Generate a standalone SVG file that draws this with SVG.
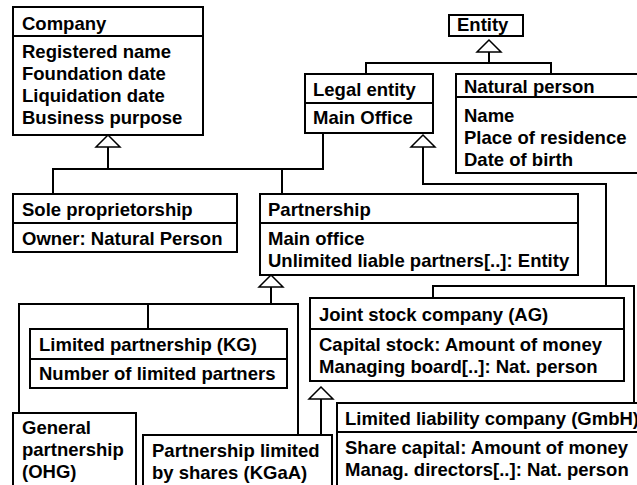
<svg xmlns="http://www.w3.org/2000/svg" width="637" height="485" viewBox="0 0 637 485">
<style>
.box{fill:#fff;stroke:#000;stroke-width:2}
.ln{fill:none;stroke:#000;stroke-width:2}
.tri{fill:#fff;stroke:#000;stroke-width:1.5}
text{font-family:"Liberation Sans",Arial,sans-serif;font-weight:bold;font-size:18.5px;fill:#000}
</style>
<rect width="637" height="485" fill="#fff"/>
<g id="connectors">
<polyline class="ln" points="489,52 489,63"/>
<polyline class="ln" points="366,74 366,63 551,63 551,74"/>
<polyline class="ln" points="108,147 108,169"/>
<polyline class="ln" points="53,194 53,169 323,169 323,133"/>
<polyline class="ln" points="282,169 282,194"/>
<polyline class="ln" points="423,147 423,184 606,184 606,286"/>
<polyline class="ln" points="433,298 433,286 634,286 634,403"/>
<polyline class="ln" points="271,287 271,304"/>
<polyline class="ln" points="19,413 19,304 298,304 298,435"/>
<polyline class="ln" points="148,304 148,329"/>
<polyline class="ln" points="321,399 321,435"/>
<polygon class="tri" points="489,40 477,52 501,52"/>
<polygon class="tri" points="108,135 96,147 120,147"/>
<polygon class="tri" points="423,135 411,147 435,147"/>
<polygon class="tri" points="271,275 259,287 283,287"/>
<polygon class="tri" points="321,387 309,399 333,399"/>
</g>
<g id="company">
<rect class="box" x="13" y="7" width="190" height="128"/>
<line class="ln" x1="13" y1="36" x2="203" y2="36"/>
<text x="22" y="30">Company</text>
<text x="22" y="58">Registered name</text>
<text x="22" y="80">Foundation date</text>
<text x="22" y="102">Liquidation date</text>
<text x="22" y="124">Business purpose</text>
</g>
<g id="entity">
<rect class="box" x="449" y="15" width="74" height="21"/>
<text x="457" y="31">Entity</text>
</g>
<g id="legal-entity">
<rect class="box" x="305" y="74" width="128" height="59"/>
<line class="ln" x1="305" y1="103" x2="433" y2="103"/>
<text x="313" y="96">Legal entity</text>
<text x="313" y="124">Main Office</text>
</g>
<g id="natural-person">
<rect class="box" x="456" y="74" width="190" height="99"/>
<line class="ln" x1="456" y1="97" x2="646" y2="97"/>
<text x="464" y="93">Natural person</text>
<text x="464" y="122">Name</text>
<text x="464" y="144">Place of residence</text>
<text x="464" y="166">Date of birth</text>
</g>
<g id="sole-proprietorship">
<rect class="box" x="13" y="194" width="224" height="58"/>
<line class="ln" x1="13" y1="223" x2="237" y2="223"/>
<text x="22" y="216">Sole proprietorship</text>
<text x="22" y="245">Owner: Natural Person</text>
</g>
<g id="partnership">
<rect class="box" x="260" y="194" width="318" height="81"/>
<line class="ln" x1="260" y1="223" x2="578" y2="223"/>
<text x="268" y="216">Partnership</text>
<text x="268" y="245">Main office</text>
<text x="268" y="267">Unlimited liable partners[..]: Entity</text>
</g>
<g id="limited-partnership">
<rect class="box" x="30" y="329" width="257" height="59"/>
<line class="ln" x1="30" y1="359" x2="287" y2="359"/>
<text x="39" y="351">Limited partnership (KG)</text>
<text x="39" y="380">Number of limited partners</text>
</g>
<g id="joint-stock-company">
<rect class="box" x="310" y="298" width="314" height="83"/>
<line class="ln" x1="310" y1="329" x2="624" y2="329"/>
<text x="319" y="321">Joint stock company (AG)</text>
<text x="319" y="351">Capital stock: Amount of money</text>
<text x="319" y="373">Managing board[..]: Nat. person</text>
</g>
<g id="gmbh">
<rect class="box" x="337" y="403" width="310" height="90"/>
<line class="ln" x1="337" y1="432" x2="647" y2="432"/>
<text x="345" y="425">Limited liability company (GmbH)</text>
<text x="345" y="454">Share capital: Amount of money</text>
<text x="345" y="476">Manag. directors[..]: Nat. person</text>
</g>
<g id="general-partnership">
<rect class="box" x="13" y="413" width="123" height="80"/>
<text x="22" y="434">General</text>
<text x="22" y="456">partnership</text>
<text x="22" y="478">(OHG)</text>
</g>
<g id="kgaa">
<rect class="box" x="143" y="435" width="189" height="58"/>
<text x="152" y="457">Partnership limited</text>
<text x="152" y="479">by shares (KGaA)</text>
</g>
</svg>
